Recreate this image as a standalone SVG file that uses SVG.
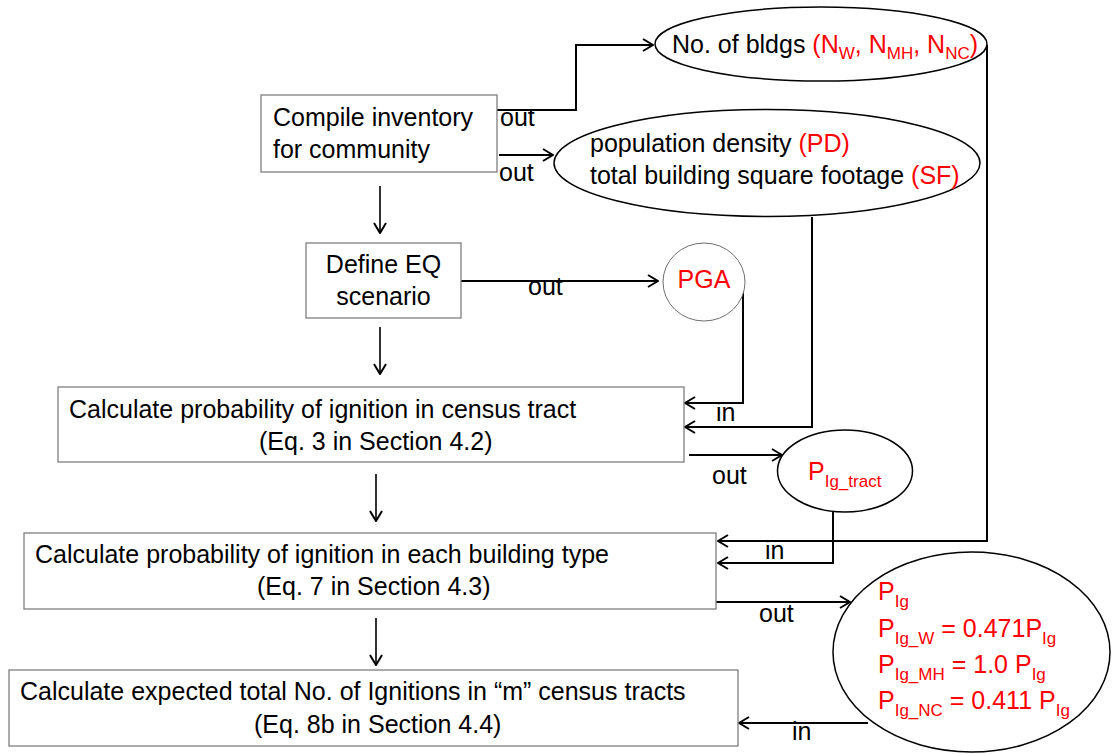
<svg xmlns="http://www.w3.org/2000/svg" width="1112" height="754" viewBox="0 0 1112 754">
<style>
text{font-family:"Liberation Sans",Arial,sans-serif;font-size:25px;fill:#000}
.r{fill:#ff0000}
.sub{font-size:17px}
.box{fill:#fff;stroke:#7f7f7f;stroke-width:1.3}
.ell{fill:#fff;stroke:#000;stroke-width:1.5}
.pga{fill:#fff;stroke:#6f6f6f;stroke-width:1}
.con{fill:none;stroke:#000;stroke-width:2}
.dn{fill:none;stroke:#000;stroke-width:1.6}
</style>
<defs>
<marker id="ah" viewBox="0 0 12 14" refX="11" refY="7" markerWidth="12" markerHeight="14" markerUnits="userSpaceOnUse" orient="auto">
<path d="M1,1 L11,7 L1,13" fill="none" stroke="#000" stroke-width="2"/>
</marker>
</defs>

<g id="connectors">
<path class="con" d="M497,110 H576 V45 H653" marker-end="url(#ah)"/>
<path class="con" d="M499,155 H553" marker-end="url(#ah)"/>
<path class="con" d="M461,281 H658" marker-end="url(#ah)"/>
<path class="con" d="M743,287 V403 H685" marker-end="url(#ah)"/>
<path class="con" d="M812,217 V427 H685" marker-end="url(#ah)"/>
<path class="con" d="M689,455 H782" marker-end="url(#ah)"/>
<path class="con" d="M987,45 V541 H718" marker-end="url(#ah)"/>
<path class="con" d="M833,512 V563 H718" marker-end="url(#ah)"/>
<path class="con" d="M716,602 H850" marker-end="url(#ah)"/>
<path class="con" d="M868,723 H739" marker-end="url(#ah)"/>
<path class="dn" d="M380,186 V233" marker-end="url(#ah)"/>
<path class="dn" d="M380,327 V374" marker-end="url(#ah)"/>
<path class="dn" d="M376,474 V521" marker-end="url(#ah)"/>
<path class="dn" d="M376,618 V665" marker-end="url(#ah)"/>
<text x="500" y="126">out</text>
<text x="499" y="181">out</text>
<text x="528" y="295">out</text>
<text x="716" y="421">in</text>
<text x="712" y="484">out</text>
<text x="765" y="559">in</text>
<text x="759" y="622">out</text>
<text x="792" y="740">in</text>
</g>

<g id="compile">
<rect class="box" x="261" y="95" width="236" height="77"/>
<text x="273" y="126">Compile inventory</text>
<text x="273" y="158">for community</text>
</g>

<g id="bldgs">
<ellipse class="ell" cx="821" cy="44" rx="166" ry="37"/>
<text x="672" y="53">No. of bldgs <tspan class="r">(N<tspan class="sub" dy="6">W</tspan><tspan dy="-6">, N</tspan><tspan class="sub" dy="6">MH</tspan><tspan dy="-6">, N</tspan><tspan class="sub" dy="6">NC</tspan><tspan dy="-6">)</tspan></tspan></text>
</g>

<g id="density">
<ellipse class="ell" cx="767" cy="163" rx="213" ry="53.5"/>
<text x="590" y="152">population density <tspan class="r">(PD)</tspan></text>
<text x="590" y="184">total building square footage <tspan class="r">(SF)</tspan></text>
</g>

<g id="define">
<rect class="box" x="306" y="243" width="155" height="75"/>
<text x="383.5" y="273" text-anchor="middle">Define EQ</text>
<text x="383.5" y="305" text-anchor="middle">scenario</text>
</g>

<g id="pga">
<ellipse class="pga" cx="704" cy="282" rx="41" ry="39"/>
<text x="704" y="288" text-anchor="middle" class="r">PGA</text>
</g>

<g id="tract">
<rect class="box" x="58" y="387" width="626" height="75"/>
<text x="69" y="418">Calculate probability of ignition in census tract</text>
<text x="259" y="450">(Eq. 3 in Section 4.2)</text>
</g>

<g id="pigtract">
<ellipse class="ell" cx="845" cy="471" rx="67.5" ry="41"/>
<text x="808" y="480" class="r">P<tspan class="sub" dy="7">Ig_tract</tspan></text>
</g>

<g id="bldgtype">
<rect class="box" x="24" y="533" width="692" height="76"/>
<text x="35" y="563">Calculate probability of ignition in each building type</text>
<text x="257" y="595">(Eq. 7 in Section 4.3)</text>
</g>

<g id="pig">
<ellipse class="ell" cx="971.5" cy="652" rx="138.5" ry="100"/>
<text x="878" y="600" class="r">P<tspan class="sub" dy="7">Ig</tspan></text>
<text x="878" y="637" class="r">P<tspan class="sub" dy="7">Ig_W</tspan><tspan dy="-7"> = 0.471P</tspan><tspan class="sub" dy="7">Ig</tspan></text>
<text x="878" y="673" class="r">P<tspan class="sub" dy="7">Ig_MH</tspan><tspan dy="-7"> = 1.0 P</tspan><tspan class="sub" dy="7">Ig</tspan></text>
<text x="878" y="709" class="r">P<tspan class="sub" dy="7">Ig_NC</tspan><tspan dy="-7"> = 0.411 P</tspan><tspan class="sub" dy="7">Ig</tspan></text>
</g>

<g id="total">
<rect class="box" x="9" y="670" width="729" height="76"/>
<text x="20" y="700">Calculate expected total No. of Ignitions in “m” census tracts</text>
<text x="254" y="733">(Eq. 8b in Section 4.4)</text>
</g>
</svg>
